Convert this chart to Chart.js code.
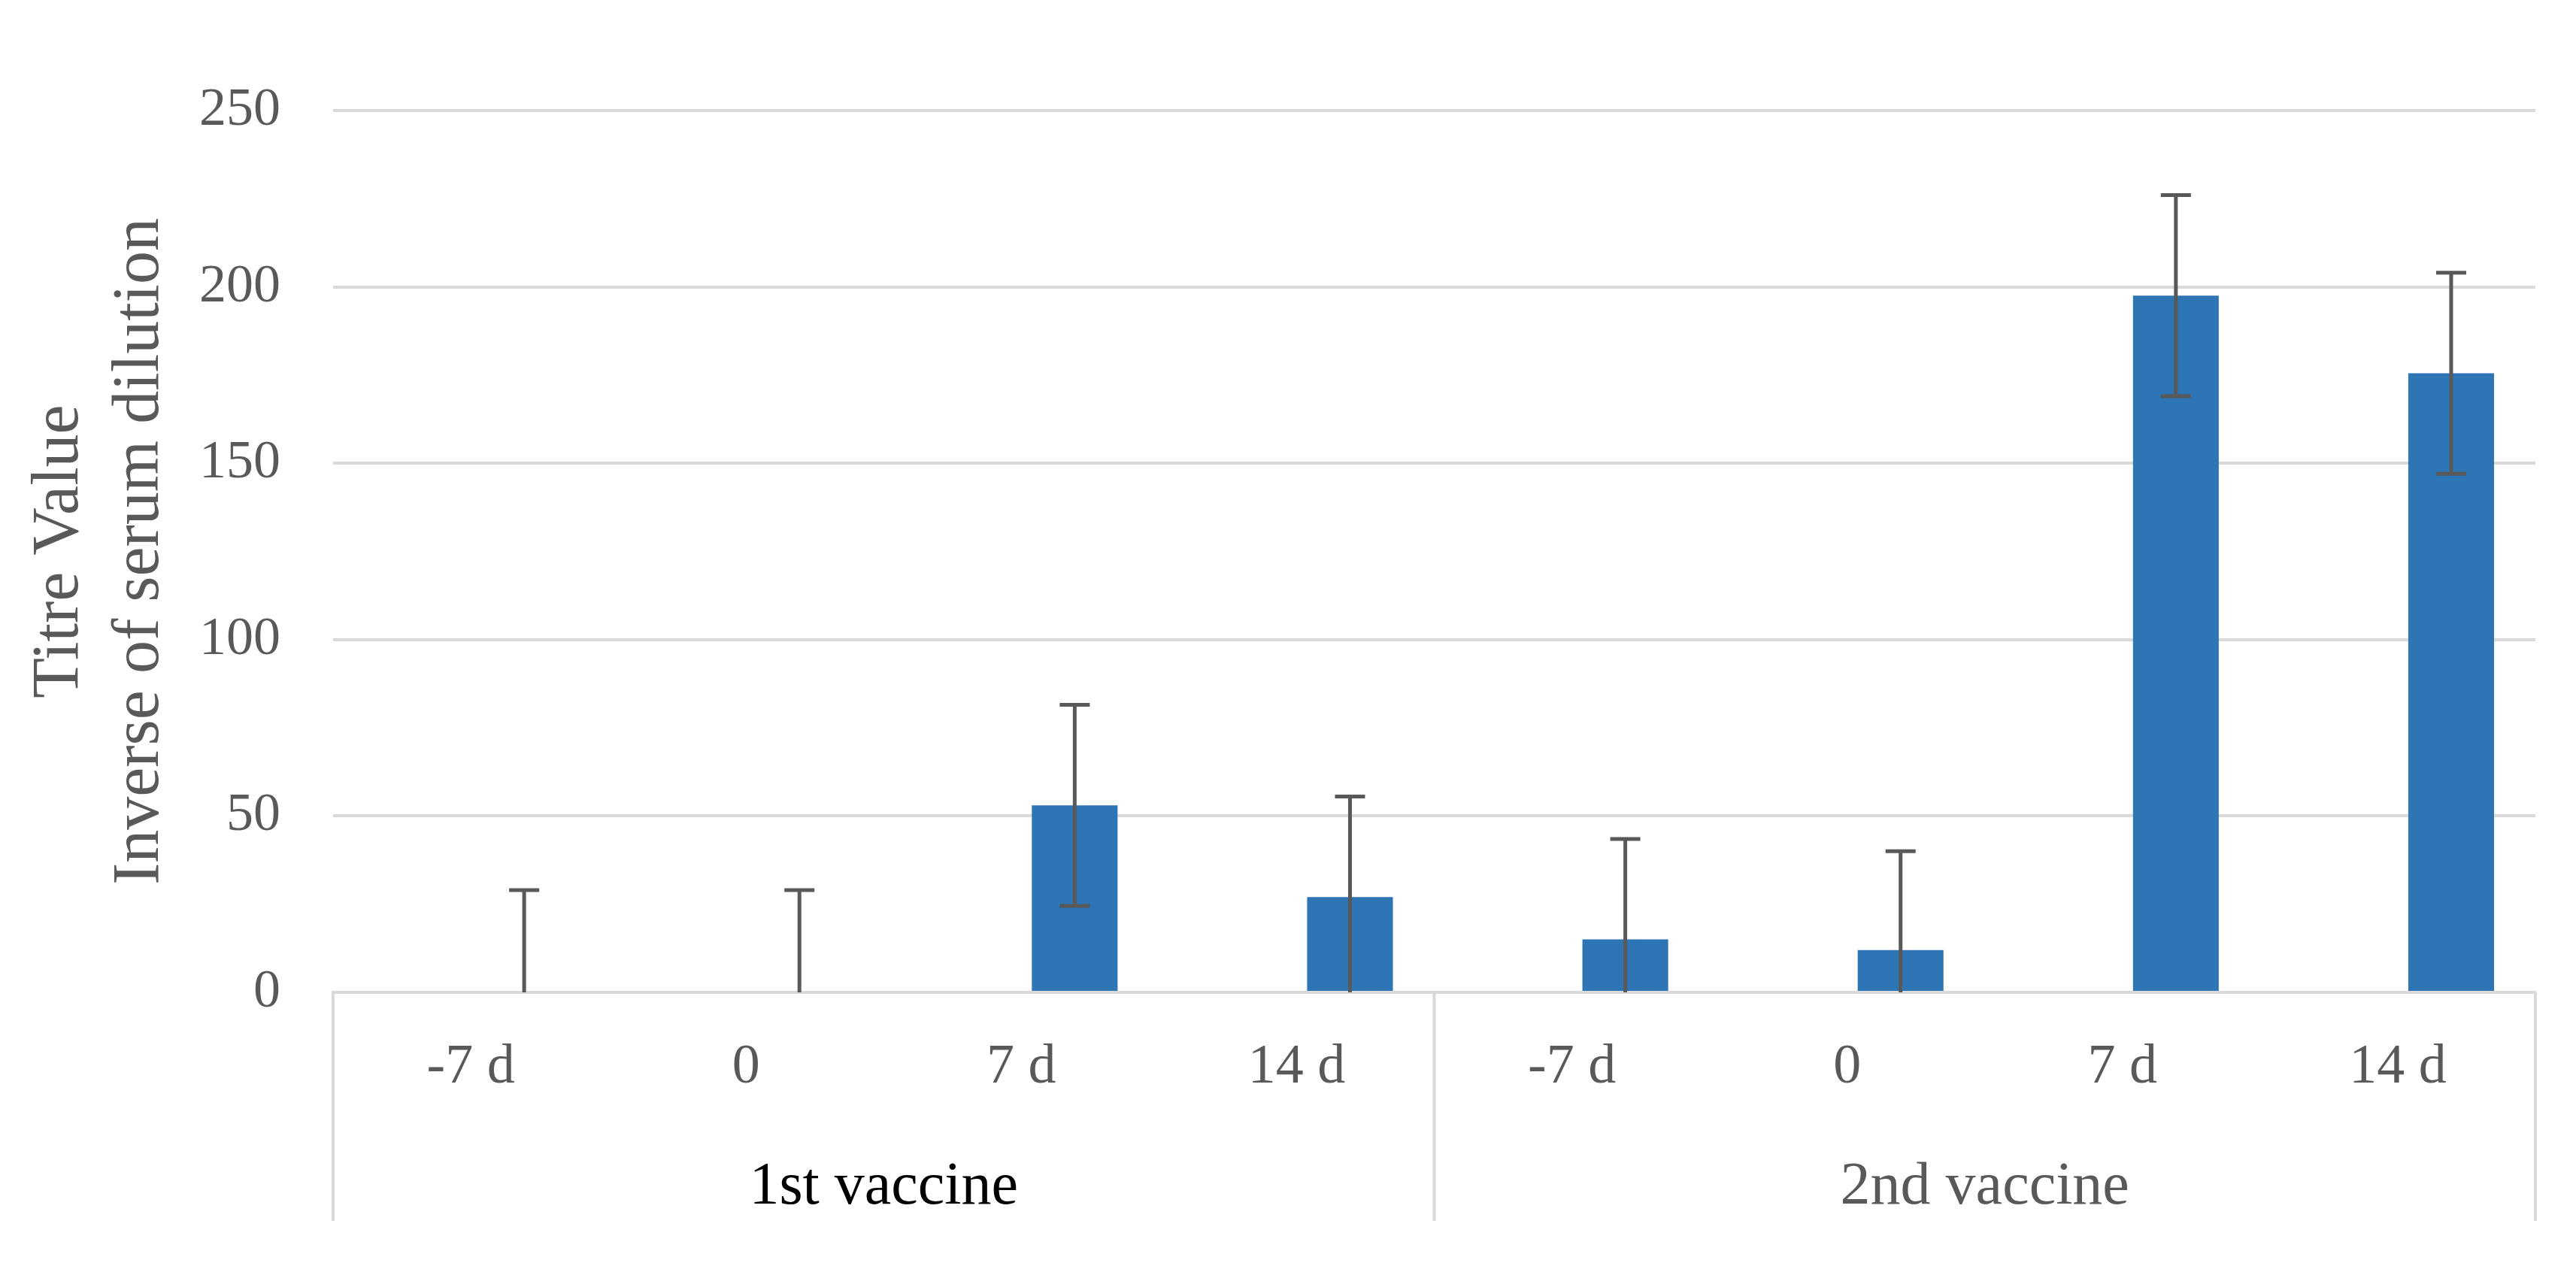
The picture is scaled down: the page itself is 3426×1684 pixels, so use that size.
<!DOCTYPE html>
<html>
<head>
<meta charset="utf-8">
<title>Titre value by vaccination time point</title>
<script src="https://cdn.jsdelivr.net/npm/chart.js@4.4.1/dist/chart.umd.min.js"></script>
<style>
  html, body { margin: 0; padding: 0; background: #ffffff; }
  #wrap { width: 3426px; height: 1684px; position: relative; }
</style>
</head>
<body>
<div id="wrap"><canvas id="titreChart"></canvas></div>
<script>
// Time points (inner axis) and vaccination rounds (outer axis)
const dayLabels = ['-7 d', '0', '7 d', '14 d', '-7 d', '0', '7 d', '14 d'];
const groupLabels = ['1st vaccine', '2nd vaccine'];

// Mean titre (inverse of serum dilution) and error bar size
const titreMeans = [0, 0, 53, 27, 15, 12, 197.5, 175.5];
const titreErrors = [29, 29, 28.5, 28.5, 28.5, 28, 28.5, 28.5];

// The original Excel chart had an empty first series, which pushes the bars right
const emptySeries = [null, null, null, null, null, null, null, null];

// Y axis range
const yMin = 0;
const yMax = 250;
const yStep = 50;

const grey = '#595959';
const lineGrey = '#d9d9d9';

Chart.defaults.font.family = '"Liberation Serif", "Times New Roman", serif';

// Draws the +/- error bars on top of the visible series, clipped to the plot area
const errorBarPlugin = {
  id: 'errorBars',
  afterDatasetsDraw(chart) {
    const meta = chart.getDatasetMeta(1);
    const yScale = chart.scales.y;
    const area = chart.chartArea;
    const ctx = chart.ctx;
    const capHalf = 20;
    ctx.save();
    ctx.strokeStyle = grey;
    ctx.lineWidth = 5;
    meta.data.forEach((bar, i) => {
      const mean = titreMeans[i];
      const err = titreErrors[i];
      const x = bar.x;
      const yTop = yScale.getPixelForValue(mean + err);
      const yLow = Math.min(yScale.getPixelForValue(mean - err), area.bottom);
      ctx.beginPath();
      ctx.moveTo(x, yTop);
      ctx.lineTo(x, yLow);
      ctx.moveTo(x - capHalf, yTop);
      ctx.lineTo(x + capHalf, yTop);
      if (mean - err >= yMin) {
        ctx.moveTo(x - capHalf, yLow);
        ctx.lineTo(x + capHalf, yLow);
      }
      ctx.stroke();
    });
    ctx.restore();
  }
};

// Vertical frame lines of the two-level category axis (outer edges + group split)
const axisFramePlugin = {
  id: 'axisFrame',
  afterDraw(chart) {
    const xScale = chart.scales.x;
    const groupScale = chart.scales.group;
    const ctx = chart.ctx;
    const top = chart.chartArea.bottom;
    const bottom = groupScale.bottom - 4;
    const split = (xScale.getPixelForTick(3) + xScale.getPixelForTick(4)) / 2;
    ctx.save();
    ctx.strokeStyle = lineGrey;
    ctx.lineWidth = 4;
    ctx.beginPath();
    [xScale.left, split, xScale.right].forEach(px => {
      ctx.moveTo(px, top);
      ctx.lineTo(px, bottom);
    });
    ctx.stroke();
    ctx.restore();
  }
};

const ctx = document.getElementById('titreChart').getContext('2d');
new Chart(ctx, {
  type: 'bar',
  data: {
    labels: dayLabels,
    datasets: [
      {
        label: 'empty',
        data: emptySeries,
        backgroundColor: 'rgba(0,0,0,0)'
      },
      {
        label: 'Titre',
        data: titreMeans,
        backgroundColor: '#2e75b6',
        borderWidth: 0
      }
    ]
  },
  options: {
    responsive: true,
    maintainAspectRatio: false,
    animation: false,
    categoryPercentage: 0.776,
    barPercentage: 0.803,
    layout: { padding: { top: 147, right: 54, bottom: 56, left: 0 } },
    plugins: {
      legend: { display: false },
      tooltip: { enabled: false }
    },
    scales: {
      x: {
        type: 'category',
        position: 'bottom',
        offset: true,
        grid: { display: false, drawTicks: false },
        border: { display: true, color: lineGrey, width: 4 },
        ticks: {
          font: { size: 74 },
          color: grey,
          padding: 56,
          autoSkip: false,
          maxRotation: 0
        },
        afterFit: scale => { scale.height = 145; }
      },
      group: {
        type: 'category',
        labels: groupLabels,
        position: 'bottom',
        offset: true,
        grid: { display: false, drawTicks: false },
        border: { display: false },
        ticks: {
          font: { size: 80 },
          color: c => c.index === 0 ? '#000000' : grey,
          padding: 67,
          autoSkip: false,
          maxRotation: 0
        },
        afterFit: scale => { scale.height = 163; }
      },
      y: {
        min: yMin,
        max: yMax,
        ticks: {
          stepSize: yStep,
          font: { size: 72 },
          color: grey,
          padding: 70
        },
        grid: { color: lineGrey, lineWidth: 4, drawTicks: false },
        border: { display: false },
        title: {
          display: true,
          text: ['Titre Value', 'Inverse of serum dilution'],
          color: grey,
          font: { size: 88, lineHeight: 1.22 },
          padding: { top: 26, bottom: 0 }
        },
        afterFit: scale => { scale.width = 443; }
      }
    }
  },
  plugins: [errorBarPlugin, axisFramePlugin]
});
</script>
</body>
</html>
